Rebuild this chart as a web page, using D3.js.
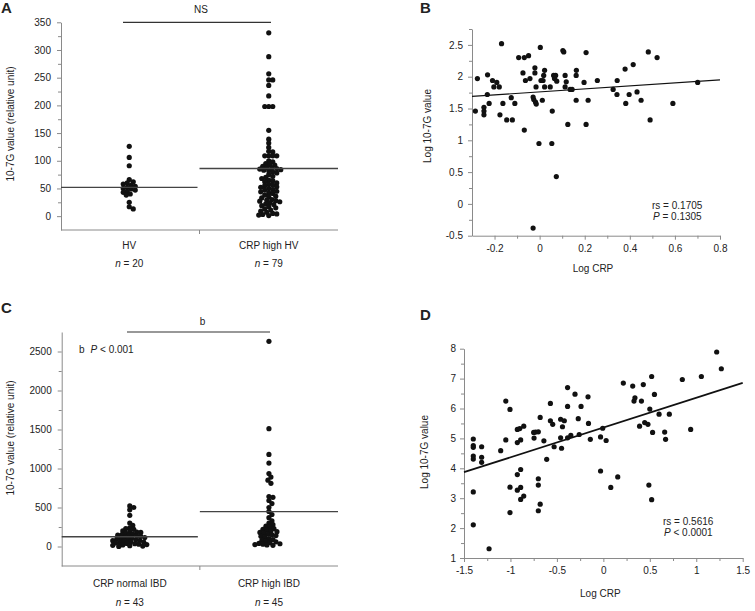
<!DOCTYPE html>
<html>
<head>
<meta charset="utf-8">
<script src="https://cdn.jsdelivr.net/npm/d3@7"></script>
<style>
  body { margin: 0; background: #fff; }
  svg, svg text { font-family: "Liberation Sans", Arial, sans-serif; }
</style>
</head>
<body>
<svg id="fig" width="755" height="611" font-family="Liberation Sans, Arial, sans-serif"></svg>
<script>
// ---- panel A: HV vs CRP high HV ----
const groupsA = ["HV", "CRP high HV"];
const countsA = [20, 79];
const meansA = [52, 86];
const hvValues = [126, 106, 91, 66, 62, 60, 58, 56, 54, 52, 50, 49, 47, 45, 43, 40, 38, 25, 17, 13];
const crpHighHvValues = [331, 288, 257, 246, 246, 236, 217, 198, 198, 198, 155, 139, 132, 124, 117, 116,
  109, 109, 109, 109, 100, 98, 95, 93, 92, 90, 88, 87, 86, 85, 84, 83, 82, 80, 78, 75, 72, 70, 68,
  65, 64, 62, 60, 58, 56, 55, 53, 52, 50, 48, 47, 45, 44, 42, 41, 38, 36, 35, 33, 30, 29, 28, 27, 26,
  24, 22, 21, 19, 17, 15, 13, 11, 9, 7, 5, 4, 3, 2, 1];

// ---- panel C: CRP normal IBD vs CRP high IBD ----
const groupsC = ["CRP normal IBD", "CRP high IBD"];
const countsC = [43, 45];
const meansC = [125, 448];
const ibdNormalValues = [520, 500, 470, 400, 300, 270, 240, 230, 220, 200, 190, 185, 180, 170, 160, 150,
  145, 140, 135, 130, 120, 115, 110, 100, 95, 90, 85, 80, 75, 70, 60, 55, 50, 45, 40, 35, 30, 25, 20,
  15, 10, 5, 0];
const ibdHighValues = [2630, 1510, 1180, 1070, 935, 890, 850, 810, 640, 630, 590, 550, 500, 450, 410, 370,
  330, 300, 280, 260, 250, 230, 220, 210, 200, 190, 180, 170, 160, 150, 140, 130, 120, 100, 90, 80,
  70, 60, 50, 40, 35, 30, 25, 20, 15];

// ---- panel B: log CRP vs log 10-7G (HV) ----
const logCrpB = [-0.285, -0.276, -0.247, -0.247, -0.247, -0.231, -0.232, -0.224, -0.209, -0.203, -0.19,
  -0.169, -0.179, -0.176, -0.163, -0.146, -0.126, -0.121, -0.11, -0.093, -0.074, -0.068, -0.063, -0.068,
  -0.049, -0.043, -0.021, -0.021, -0.029, -0.026, -0.018, -0.015, -0.016, -0.029, -0.003, 0.003, 0.006,
  0.015, 0.012, 0.018, 0.022, 0.022, 0.047, 0.056, 0.054, 0.062, 0.066, 0.071, 0.076, 0.074, 0.103,
  0.107, 0.113, 0.113, 0.118, 0.125, 0.135, 0.144, 0.162, 0.163, 0.162, 0.197, 0.206, 0.206, 0.215,
  0.256, 0.326, 0.343, 0.344, 0.379, 0.382, 0.397, 0.415, 0.432, 0.45, 0.482, 0.49, 0.521, 0.591, 0.701];
const log107gB = [1.46, 1.97, 1.46, 1.52, 1.40, 2.03, 1.72, 1.58, 1.94, 1.84, 1.91,
  2.52, 1.84, 1.40, 1.58, 1.32, 1.67, 1.32, 1.58, 2.30, 2.06, 2.30, 1.94, 1.16,
  2.33, 1.97, 2.14, 2.06, 1.68, 1.64, 1.60, 1.57, 1.84, -0.38, 0.95, 2.46, 1.94,
  1.94, 1.63, 2.02, 2.10, 1.84, 1.84, 1.46, 0.95, 2.02, 1.97, 2.02, 1.93, 0.43, 2.41,
  2.39, 1.84, 2.02, 1.92, 1.25, 1.80, 1.80, 2.02, 2.10, 1.63, 1.91, 2.38, 1.25, 1.63,
  1.94, 1.80, 1.72, 1.94, 2.12, 1.58, 1.72, 2.19, 1.76, 1.63, 2.39, 1.32, 2.30, 1.58, 1.91];
const fitB = {x: [-0.3, 0.8], y: [1.69, 1.95]};
const statsB = ["0.1705", "= 0.1305"];

// ---- panel D: log CRP vs log 10-7G (IBD) ----
const logCrpD = [-1.4, -1.4, -1.4, -1.4, -1.4, -1.4, -1.4, -1.31, -1.31, -1.31, -1.23, -1.105, -1.05, -1.05,
  -1.005, -1.005, -1.005, -0.926, -0.926, -0.926, -0.926, -0.9, -0.89, -0.89, -0.89, -0.89, -0.857,
  -0.857, -0.746, -0.75, -0.73, -0.7, -0.68, -0.7, -0.7, -0.7, -0.68, -0.64, -0.61, -0.57, -0.57,
  -0.545, -0.53, -0.46, -0.46, -0.45, -0.44, -0.42, -0.385, -0.385, -0.385, -0.35, -0.305, -0.27,
  -0.26, -0.24, -0.165, -0.16, -0.14, -0.03, -0.03, -0.007, 0.03, 0.08, 0.155, 0.215, 0.316, 0.33,
  0.34, 0.43, 0.41, 0.445, 0.39, 0.48, 0.5, 0.52, 0.53, 0.55, 0.49, 0.52, 0.6, 0.66, 0.67, 0.71,
  0.85, 0.94, 1.055, 1.22, 1.27];
const log107gD = [4.98, 4.76, 4.70, 4.41, 4.31, 3.21, 2.11, 4.72, 4.37, 4.20, 1.31, 4.59, 6.25, 4.95,
  5.97, 3.37, 2.52, 5.30, 4.86, 3.79, 3.27, 5.33, 4.95, 3.96, 3.36, 2.96, 5.41,
  3.07, 5.01, 5.20, 5.21, 5.22, 5.70, 3.65, 3.44, 2.58, 2.80, 4.92, 4.30, 6.17, 5.59,
  5.47, 4.72, 5.64, 5.02, 4.67, 5.39, 5.59, 6.70, 6.07, 5.02, 5.10, 6.48, 5.66,
  5.13, 6.07, 6.39, 5.50, 4.97, 5.05, 3.91, 5.34, 4.93, 3.36, 3.71, 6.85, 6.75, 6.25,
  6.36, 6.80, 6.25, 5.53, 5.41, 5.47, 5.98, 7.07, 5.20, 6.47, 3.44, 2.95, 5.81, 5.21, 4.97, 5.81,
  6.97, 5.30, 7.07, 7.89, 7.33];
const fitD = {x: [-1.5, 1.5], y: [3.87, 6.86]};
const statsD = ["0.5616", "< 0.0001"];

const svg = d3.select("#fig");
const ink = "#222";
const axisGray = "#8a8a8a";
const dotR = 2.6;
const fs = 10;
const numFmt = d => String(d);

function panelLetter(txt, x, y) {
  svg.append("text").attr("x", x).attr("y", y)
    .attr("font-family", "'DejaVu Sans', Verdana, sans-serif")
    .attr("font-weight", "bold").attr("font-size", 15).attr("fill", ink).text(txt);
}

function yTitle(txt, x, cy) {
  svg.append("text")
    .attr("transform", `translate(${x},${cy}) rotate(-90)`)
    .attr("text-anchor", "middle").attr("font-size", fs).attr("fill", ink).text(txt);
}

function styleAxis(g) {
  g.attr("font-family", "'Liberation Sans', Arial, sans-serif").attr("font-size", fs);
  g.selectAll("path, line").attr("stroke", axisGray);
  g.selectAll("text").attr("fill", ink);
}

function drawMinor(g, axisFn, scale, values) {
  g.call(axisFn(scale).tickValues(values).tickFormat("").tickSize(3));
  g.select(".domain").remove();
  g.selectAll("line").attr("stroke", axisGray);
}

// simple dodge so that close values sit side by side
function dodge(values, y, minDist) {
  const placed = [];
  const offs = new Array(values.length);
  const order = d3.range(values.length).sort((a, b) => values[b] - values[a]);
  for (const i of order) {
    const py = y(values[i]);
    let off = 0;
    for (let k = 0; k < 60; k++) {
      const cand = k === 0 ? 0 : (k % 2 ? 1 : -1) * Math.ceil(k / 2);
      if (placed.every(p => Math.hypot(p[0] - cand, p[1] - py) >= minDist)) { off = cand; break; }
    }
    placed.push([off, py]);
    offs[i] = off;
  }
  return offs;
}

function drawDotPanel(o) {
  const y = d3.scaleLinear().domain(o.yDomain).range([o.bottom, o.top]);
  const x = d3.scaleBand().domain(o.groups).range([o.left, o.right]);

  const gy = svg.append("g").attr("transform", `translate(${o.left},0)`);
  gy.call(d3.axisLeft(y).tickValues(o.yMajor).tickFormat(numFmt)
    .tickSize(4).tickPadding(6).tickSizeOuter(0));
  styleAxis(gy);
  const gym = svg.append("g").attr("transform", `translate(${o.left},0)`);
  drawMinor(gym, d3.axisLeft, y, o.yMinor);

  // bottom axis: a single rule with a tick between the groups
  const gx = svg.append("g");
  gx.append("line").attr("x1", o.left).attr("x2", o.right)
    .attr("y1", o.bottom).attr("y2", o.bottom).attr("stroke", axisGray);
  gx.append("line").attr("x1", x(o.groups[1])).attr("x2", x(o.groups[1]))
    .attr("y1", o.bottom).attr("y2", o.bottom + 4).attr("stroke", axisGray);

  o.groups.forEach((grp, gi) => {
    const cx = x(grp) + x.bandwidth() / 2 + (gi === 0 ? -1 : 0);
    svg.append("text").attr("x", cx).attr("y", o.bottom + o.catDy)
      .attr("text-anchor", "middle").attr("font-size", fs).attr("fill", ink).text(grp);
    const nt = svg.append("text").attr("x", cx).attr("y", o.bottom + o.nDy)
      .attr("text-anchor", "middle").attr("font-size", fs).attr("fill", ink);
    nt.append("tspan").attr("font-style", "italic").text("n");
    nt.append("tspan").text(" = " + o.counts[gi]);

    const vals = o.values[gi];
    const offs = dodge(vals, y, 3.8);
    svg.append("g").selectAll("circle").data(vals).join("circle")
      .attr("cx", (d, i) => cx + offs[i])
      .attr("cy", d => y(d))
      .attr("r", dotR).attr("fill", "#111");

    const x0 = gi === 0 ? o.left : x(grp);
    const x1 = gi === 0 ? x(grp) + x.bandwidth() - 2 : o.right;
    svg.append("line").attr("x1", x0).attr("x2", x1)
      .attr("y1", y(o.means[gi])).attr("y2", y(o.means[gi]))
      .attr("stroke", "#444").attr("stroke-width", 1.3);
  });

  // significance bar
  svg.append("line").attr("x1", o.barX[0]).attr("x2", o.barX[1])
    .attr("y1", o.top).attr("y2", o.top).attr("stroke", "#333").attr("stroke-width", 1.2);
  svg.append("text").attr("x", (o.barX[0] + o.barX[1]) / 2 + 4).attr("y", o.top - o.sigDy)
    .attr("text-anchor", "middle").attr("font-size", fs).attr("fill", ink).text(o.sig);
  return {x, y};
}

function drawScatterPanel(o) {
  const x = d3.scaleLinear().domain(o.xDomain).range([o.left, o.right]);
  const y = d3.scaleLinear().domain(o.yDomain).range([o.bottom, o.top]);

  const gy = svg.append("g").attr("transform", `translate(${o.left},0)`);
  gy.call(d3.axisLeft(y).tickValues(o.yMajor).tickFormat(numFmt)
    .tickSize(4).tickPadding(o.yPad).tickSizeOuter(0));
  styleAxis(gy);
  const gym = svg.append("g").attr("transform", `translate(${o.left},0)`);
  drawMinor(gym, d3.axisLeft, y, o.yMinor);

  const gx = svg.append("g").attr("transform", `translate(0,${o.bottom})`);
  gx.call(d3.axisBottom(x).tickValues(o.xMajor).tickFormat(numFmt)
    .tickSize(4).tickPadding(5).tickSizeOuter(0));
  styleAxis(gx);
  const gxm = svg.append("g").attr("transform", `translate(0,${o.bottom})`);
  drawMinor(gxm, d3.axisBottom, x, o.xMinor);

  svg.append("line")
    .attr("x1", x(o.fit.x[0])).attr("y1", y(o.fit.y[0]))
    .attr("x2", x(o.fit.x[1])).attr("y2", y(o.fit.y[1]))
    .attr("stroke", "#111").attr("stroke-width", o.fitWidth);

  svg.append("g").selectAll("circle").data(o.xs).join("circle")
    .attr("cx", d => x(d)).attr("cy", (d, i) => y(o.ys[i]))
    .attr("r", dotR).attr("fill", "#111");

  svg.append("text").attr("x", (o.left + o.right) / 2 - 3).attr("y", o.bottom + o.titleDy)
    .attr("text-anchor", "middle").attr("font-size", fs).attr("fill", ink).text("Log CRP");

  svg.append("text").attr("x", o.statX).attr("y", o.statY)
    .attr("font-size", fs).attr("fill", ink).text("rs = " + o.stats[0]);
  const s2 = svg.append("text").attr("x", o.statX + 1).attr("y", o.statY + 11)
    .attr("font-size", fs).attr("fill", ink);
  s2.append("tspan").attr("font-style", "italic").text("P");
  s2.append("tspan").text(" " + o.stats[1]);
}

// ---- A ----
panelLetter("A", 1, 13);
yTitle("10-7G value (relative unit)", 14, 124);
drawDotPanel({
  groups: groupsA, counts: countsA, means: meansA, values: [hvValues, crpHighHvValues],
  yDomain: [-25, 350], yMajor: d3.range(0, 351, 50), yMinor: d3.range(25, 330, 50),
  left: 61, right: 338, top: 22.3, bottom: 230, barX: [123, 271], sig: "NS",
  catDy: 19, nDy: 37, sigDy: 9
});

// ---- C ----
panelLetter("C", 1, 313);
yTitle("10-7G value (relative unit)", 14, 438);
drawDotPanel({
  groups: groupsC, counts: countsC, means: meansC, values: [ibdNormalValues, ibdHighValues],
  yDomain: [-250, 2750], yMajor: d3.range(0, 2501, 500), yMinor: d3.range(250, 2300, 500),
  left: 61.7, right: 338, top: 332, bottom: 566, barX: [127, 270], sig: "b",
  catDy: 21, nDy: 40, sigDy: 7
});
{
  const t = svg.append("text").attr("x", 79).attr("y", 353).attr("font-size", fs).attr("fill", ink);
  t.append("tspan").text("b");
  t.append("tspan").attr("dx", 6).attr("font-style", "italic").text("P");
  t.append("tspan").text(" < 0.001");
}

// ---- B ----
panelLetter("B", 420, 13);
yTitle("Log 10-7G value", 431, 126);
drawScatterPanel({
  xs: logCrpB, ys: log107gB, fit: fitB, fitWidth: 1.1, stats: statsB,
  xDomain: [-0.3, 0.8], yDomain: [-0.5, 2.75],
  xMajor: [-0.2, 0, 0.2, 0.4, 0.6, 0.8], xMinor: [-0.1, 0.1, 0.3, 0.5, 0.7],
  yMajor: [-0.5, 0, 0.5, 1, 1.5, 2, 2.5], yMinor: [-0.25, 0.25, 0.75, 1.25, 1.75, 2.25, 2.75],
  left: 472, right: 720, top: 29, bottom: 235.7, statX: 652, statY: 209, titleDy: 36, yPad: 5
});

// ---- D ----
panelLetter("D", 420, 320);
yTitle("Log 10-7G value", 428, 452);
drawScatterPanel({
  xs: logCrpD, ys: log107gD, fit: fitD, fitWidth: 1.8, stats: statsD,
  xDomain: [-1.5, 1.5], yDomain: [1, 8],
  xMajor: [-1.5, -1, -0.5, 0, 0.5, 1, 1.5], xMinor: [-1.25, -0.75, -0.25, 0.25, 0.75, 1.25],
  yMajor: [1, 2, 3, 4, 5, 6, 7, 8], yMinor: [1.5, 2.5, 3.5, 4.5, 5.5, 6.5, 7.5],
  left: 464, right: 742.7, top: 348.7, bottom: 558, statX: 663, statY: 525, titleDy: 39, yPad: 4
});
</script>
</body>
</html>
